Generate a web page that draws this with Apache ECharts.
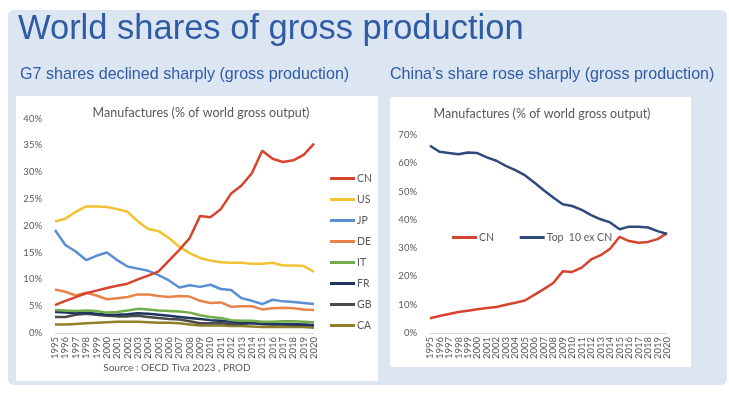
<!DOCTYPE html>
<html>
<head>
<meta charset="utf-8">
<script src="https://cdn.jsdelivr.net/npm/echarts@6/dist/echarts.min.js"></script>
<style>
html,body{margin:0;padding:0;background:#fff;}
#c{width:729px;height:393px;}
</style>
</head>
<body>
<div id="c"></div>
<script>
var years = ['1995','1996','1997','1998','1999','2000','2001','2002','2003','2004','2005','2006','2007','2008','2009','2010','2011','2012','2013','2014','2015','2016','2017','2018','2019','2020'];
var leftTicks = [0,5,10,15,20,25,30,35,40];
var rightTicks = [0,10,20,30,40,50,60,70];

var CN = [5.2,6.0,6.7,7.4,7.9,8.4,8.8,9.2,10.0,10.7,11.5,13.5,15.5,17.7,21.8,21.6,23.1,26.0,27.5,29.8,34.0,32.5,31.9,32.2,33.2,35.3];
var US = [20.8,21.3,22.6,23.6,23.6,23.5,23.1,22.6,20.8,19.4,19.0,17.7,16.1,14.9,14.0,13.5,13.2,13.1,13.1,12.9,12.9,13.1,12.6,12.6,12.5,11.4];
var JP = [19.2,16.4,15.2,13.6,14.4,15.0,13.6,12.4,12.0,11.6,10.8,9.8,8.5,8.9,8.6,9.0,8.2,8.0,6.5,6.0,5.4,6.2,5.9,5.8,5.6,5.4];
var DE = [8.1,7.7,7.0,7.5,7.0,6.3,6.5,6.7,7.2,7.2,6.9,6.7,6.9,6.8,6.0,5.6,5.7,4.9,5.0,5.0,4.4,4.6,4.7,4.6,4.4,4.3];
var IT = [4.3,4.2,4.1,4.2,4.1,3.8,3.9,4.2,4.5,4.4,4.2,4.1,4.0,3.8,3.3,3.0,2.8,2.4,2.3,2.3,2.1,2.1,2.2,2.2,2.1,2.0];
var FR = [3.9,3.8,3.7,3.8,3.6,3.4,3.4,3.5,3.7,3.6,3.4,3.2,3.0,2.8,2.6,2.4,2.3,2.1,1.9,1.9,1.7,1.7,1.7,1.7,1.6,1.5];
var GB = [3.0,3.0,3.4,3.6,3.4,3.2,3.1,3.1,3.2,3.0,2.8,2.6,2.5,2.2,1.8,1.8,1.8,1.7,1.7,1.8,1.7,1.6,1.6,1.5,1.5,1.4];
var CA = [1.6,1.6,1.7,1.8,1.9,2.0,2.1,2.1,2.1,2.0,1.9,1.9,1.8,1.6,1.4,1.4,1.4,1.3,1.3,1.2,1.1,1.1,1.1,1.1,1.1,1.0];
var TOP10 = [66.2,64.1,63.6,63.2,63.8,63.6,62.1,60.9,59.1,57.6,55.8,53.2,50.5,47.9,45.5,44.9,43.5,41.7,40.2,39.1,36.7,37.6,37.6,37.3,36.0,35.0];

var leftNames = ['CN','US','JP','DE','IT','FR','GB','CA'];
var leftData = [CN,US,JP,DE,IT,FR,GB,CA];
var leftColors = ['#D6432E','#F2C230','#5B8FD3','#E8844A','#72AD4A','#1F3560','#4A4A4A','#8E7F28'];

var chartFont = 'Lato';
var gray = '#595959';

var series = [];
leftNames.forEach(function(n,i){
  series.push({name:n,type:'line',xAxisIndex:0,yAxisIndex:0,data:leftData[i],showSymbol:false,
    lineStyle:{width:2.5,color:leftColors[i]},itemStyle:{color:leftColors[i]},z:10-i});
});
series.push({name:'CN ',type:'line',xAxisIndex:1,yAxisIndex:1,data:CN,showSymbol:false,
  lineStyle:{width:2.5,color:'#D6432E'},itemStyle:{color:'#D6432E'}});
series.push({name:'Top  10 ex CN',type:'line',xAxisIndex:1,yAxisIndex:1,data:TOP10,showSymbol:false,
  lineStyle:{width:2.5,color:'#2E4A7D'},itemStyle:{color:'#2E4A7D'}});

function xAxisCfg(idx){
  return {type:'category',gridIndex:idx,data:years,boundaryGap:false,
    axisLine:{lineStyle:{color:'#d9d9d9',width:1}},axisTick:{show:false},
    axisLabel:{rotate:90,interval:0,fontSize:9.5,color:gray,fontFamily:chartFont,margin:4}};
}
function yAxisCfg(idx,max,interval){
  return {type:'value',gridIndex:idx,min:0,max:max,interval:interval,
    splitLine:{show:false},axisLine:{show:false},axisTick:{show:false},
    axisLabel:{formatter:'{value}%',fontSize:9.5,color:gray,fontFamily:chartFont,margin:13}};
}

var option = {
  animation:false,
  backgroundColor:'#ffffff',
  graphic:[
    {type:'rect',shape:{x:8,y:10,width:719,height:375,r:6},style:{fill:'#DCE6F2'},z:-10},
    {type:'rect',shape:{x:16,y:96,width:362,height:285},style:{fill:'#ffffff'},z:-9},
    {type:'rect',shape:{x:390,y:97,width:301,height:270},style:{fill:'#ffffff'},z:-9},
    {type:'text',left:18,top:12,style:{text:'World shares of gross production',fontSize:34.5,fontFamily:'Liberation Sans',fill:'#2F5BA4'}},
    {type:'text',left:20,top:67,style:{text:'G7 shares declined sharply (gross production)',fontSize:16.1,fontFamily:'Liberation Sans',fill:'#2F5BA4'}},
    {type:'text',left:390,top:67,style:{text:'China\u2019s share rose sharply (gross production)',fontSize:16.1,fontFamily:'Liberation Sans',fill:'#2F5BA4'}},
    {type:'text',x:201,y:113,style:{text:'Manufactures (% of world gross output)',fontSize:12.5,fontFamily:chartFont,fill:gray,align:'center',verticalAlign:'middle'}},
    {type:'text',x:542,y:114,style:{text:'Manufactures (% of world gross output)',fontSize:12.5,fontFamily:chartFont,fill:gray,align:'center',verticalAlign:'middle'}},
    {type:'text',x:177,y:368,style:{text:'Source : OECD Tiva 2023 , PROD',fontSize:10,fontFamily:chartFont,fill:gray,align:'center',verticalAlign:'middle'}}
  ],
  legend:[
    {data:leftNames,orient:'vertical',left:325,top:168,itemWidth:25,itemHeight:3,itemGap:10,icon:'rect',
      textStyle:{fontSize:10.5,color:gray,fontFamily:chartFont,padding:[0,0,0,-3]},selectedMode:false},
    {data:['CN ','Top  10 ex CN'],orient:'horizontal',left:447,top:227,itemWidth:25,itemHeight:3,itemGap:23,icon:'rect',
      textStyle:{fontSize:10.5,color:gray,fontFamily:chartFont,padding:[0,0,0,-3]},selectedMode:false}
  ],
  grid:[
    {left:55,top:118.5,width:259,height:214.5},
    {left:430,top:135,width:237,height:198}
  ],
  xAxis:[xAxisCfg(0),xAxisCfg(1)],
  yAxis:[yAxisCfg(0,leftTicks[leftTicks.length-1],leftTicks[1]-leftTicks[0]),yAxisCfg(1,rightTicks[rightTicks.length-1],rightTicks[1]-rightTicks[0])],
  series:series
};
var chart = echarts.init(document.getElementById('c'),null,{renderer:'canvas'});
chart.setOption(option);
</script>
</body>
</html>
